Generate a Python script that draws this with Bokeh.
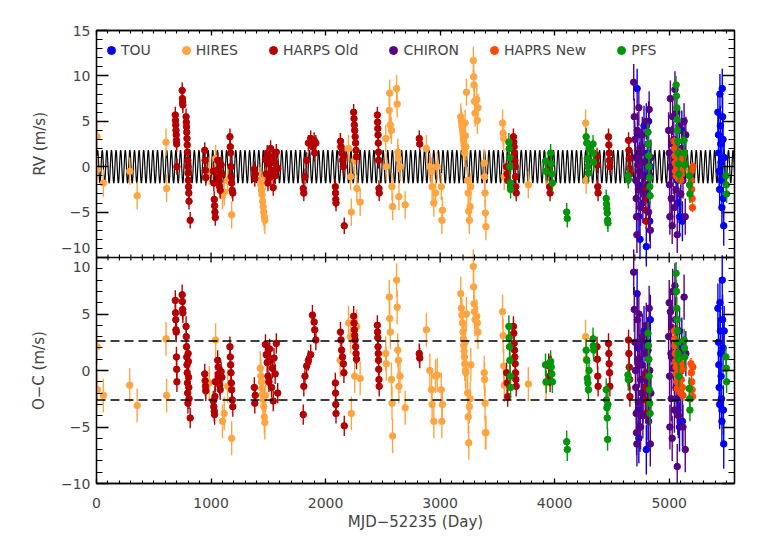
import numpy as np
from bokeh.plotting import figure
from bokeh.models import (Range1d, LinearAxis, FixedTicker, SingleIntervalTicker,
                          Span, CustomJSTickFormatter, ColumnDataSource, Title)
from bokeh.embed import file_html
from bokeh.resources import INLINE

# ---------------- data ----------------
# times are MJD-52235 (days), RV and O-C in m/s
TOU_T = [4720, 4725, 4730, 4735, 4740, 4745, 4760, 4770, 4780, 4790, 4800, 4810, 4815, 4820, 4830, 4835,
         5060, 5070, 5075, 5080, 5090, 5100, 5110, 5115,
         5425, 5430, 5433, 5436, 5440, 5443, 5446, 5450, 5453, 5456, 5460, 5463, 5466, 5470, 5473, 5476, 5480]
TOU_RV = [8.6, 3.5, -2.0, -5.5, 0.5, -8.0, 2.0, -4.0, 4.5, -1.0, -8.8, 1.5, -3.0, 5.0, -6.0, 0.0,
          2.5, -1.5, -4.0, 0.5, -5.5, -3.0, 4.0, -6.0,
          6.0, 3.5, 1.5, -0.5, -2.5, 8.0, 4.5, 2.5, 0.5, -1.5, -4.5, 8.6, 5.5, 3.0, -3.5, -6.5, 1.0]
TOU_OC = [6.8, 2.0, -3.5, -6.0, 1.0, -5.0, 0.5, -2.5, 3.5, -1.5, -7.0, 2.5, -4.0, 1.0, -2.0, 4.5,
          0.5, -2.5, -3.5, -1.5, -5.0, 0.0, 2.5, -4.5,
          5.5, 2.5, 0.5, -1.5, -3.0, 6.0, 3.5, 1.5, -0.5, -2.5, -4.5, 8.0, 4.5, 2.0, -3.5, -6.5, 3.5]
TOU_ERR = 2.2

HIRES_T = [5, 8, 60, 290, 355, 607, 612,
           985, 1040, 1100, 1115, 1145, 1180,
           1430, 1435, 1440, 1445, 1450, 1455, 1460, 1465, 1470, 1475,
           2127, 2200, 2218, 2225, 2254, 2273, 2302,
           2525, 2530, 2556, 2560, 2565, 2575, 2580, 2585, 2620, 2625, 2630, 2635, 2640, 2650, 2695,
           2880, 2910, 2925, 2930, 2945, 2960, 2975, 3010, 3015, 3020,
           3180, 3185, 3190, 3195, 3200, 3203, 3206, 3209, 3212, 3215,
           3218, 3221, 3225, 3230,
           3240, 3245, 3250, 3255, 3262, 3268,
           3290, 3293, 3296, 3300, 3305,
           3320, 3325, 3330,
           3385, 3388, 3392, 3395, 3400,
           3545, 3550, 3555, 3560,
           3770, 3925, 4270, 4275]
HIRES_RV = [3.3, -0.3, -1.8, -0.5, -3.2, 2.7, -2.4,
            -0.5, 0.9, -3.2, -2.8, -1.5, -5.3,
            -1.5, -2.0, -2.6, -3.1, -3.8, -4.4, -5.0, -5.5, -5.9, -1.0,
            2.2, 2.0, -1.1, -5.0, 0.7, -2.4, -3.9,
            3.1, 0.0, 6.2, 8.1, 4.6, 4.0, -2.2, -4.4, 8.6, 6.9, 1.6, 0.9, -3.3, 0.0, -4.2,
            2.0, 0.0, -0.5, -2.2, -4.0, -2.9, 0.0, -2.2, -5.9, -4.8,
            5.5, 5.0, 4.5, 4.0, 3.6, 3.2, 2.8, 2.4, 2.0, 1.5,
            4.8, 3.4, 2.2, 8.2,
            -1.5, -2.9, -4.9, -5.9, -4.4, -2.2,
            11.7, 9.9, 9.0, 7.2, 5.9,
            7.4, 5.1, 6.5,
            0.4, -1.1, -2.9, -5.1, -6.6,
            4.8, 3.7, 3.1, -1.1,
            -2.0, -0.5, 4.8, -1.5]
HIRES_OC = [2.1, -1.7, -2.2, -1.3, -3.1, 2.8, -2.2,
            -1.1, 2.7, -4.5, -3.8, -1.4, -6.0,
            0.2, -0.5, -1.0, -1.6, -2.1, -2.6, -3.2, -4.1, -4.6, -2.2,
            0.9, 4.2, 3.0, -3.8, -0.5, 3.9, -0.7,
            1.5, 0.6, 6.5, 4.6, 3.4, -0.8, -2.9, -5.8, 8.0, 5.6, 1.8, 0.9, -1.4, -0.5, -3.3,
            3.6, 0.0, -1.7, -3.0, -4.5, -0.5, -0.4, -1.7, -4.5, -3.0,
            6.8, 5.5, 4.9, 4.2, 3.4, 2.8, 2.2, 1.7, 1.2, 0.6,
            2.5, 0.0, -0.2, 5.0,
            -2.0, -4.1, -6.4, -3.2, -2.5, 0.5,
            9.2, 7.4, 5.9, 5.2, 4.5,
            4.8, 4.2, 3.4,
            -0.2, -0.8, -2.9, -5.5, -5.5,
            5.2, 3.1, 0.4, -1.3,
            -1.2, -1.1, 3.0, 1.0]
HIRES_ERR = 1.5

HARPS_OLD_T = [688, 690, 692, 694, 696, 698, 700, 702,
               748, 750, 752, 754,
               782, 784, 786, 788, 790, 792, 794, 796, 798, 800, 802, 804, 806, 808, 818,
               945, 948, 951, 954,
               1020, 1024, 1028, 1031, 1034, 1037,
               1058, 1062, 1066, 1070, 1075, 1080, 1088, 1095,
               1165, 1168, 1171, 1174, 1177, 1180, 1185, 1190,
               1378, 1382, 1386,
               1475, 1482, 1490, 1497, 1505, 1512, 1520, 1528, 1535, 1543, 1550, 1560, 1570, 1582,
               1805, 1810, 1820, 1835, 1850, 1870, 1885, 1900, 1905, 1915,
               2085, 2087, 2089, 2091, 2130, 2135, 2140, 2148, 2155, 2160, 2163,
               2245, 2248, 2251, 2254, 2258, 2262, 2266, 2270,
               2452, 2454, 2456, 2458, 2460, 2462, 2464, 2466, 2468,
               2818, 2822,
               3580, 3585, 3590, 3640, 3643, 3646, 3649, 3652, 3655, 3658, 3661, 3664,
               3948, 3952, 3956, 3960,
               4370, 4373, 4376, 4379,
               4470, 4473, 4476, 4479, 4482,
               4645, 4648, 4651, 4654, 4657,
               4790, 4793, 4796, 4799]
HARPS_OLD_RV = [5.7, 5.1, 4.6, 4.0, 3.5, 2.9, 2.5, 0.0,
                8.4, 7.5, 7.1, 6.8,
                5.5, 4.9, 4.4, 3.8, 3.1, 2.4, 1.6, 0.7, 0.0, -0.7, -1.5, -2.2, -2.9, -3.8, -5.9,
                1.8, 0.7, -0.4, -1.2,
                -0.5, -1.8, -3.6, -4.3, -5.0, -5.6,
                0.7, -0.3, -1.1, -1.6, -2.2, -2.6, 0.2, -0.8,
                3.3, 2.2, 1.5, 0.0, -1.1, -1.8, -2.6, -2.9,
                -0.3, -1.3, -0.8,
                0.8, -0.8, 1.5, -1.8, 0.3, -1.2, 2.0, -0.4, 1.0, -2.3, 0.5, -1.0, 1.6, -0.2,
                -2.4, -2.9, -1.1, 0.7, 2.6, 3.1, 2.2, 2.9, 1.5, 2.6,
                -2.2, -2.9, -3.6, -4.0, 2.8, 2.2, 1.5, 0.7, 0.0, 1.2, -6.5,
                6.0, 5.3, 4.6, 4.0, 3.3, 2.6, 1.8, 1.1,
                5.7, 4.9, 4.2, 3.5, 2.6, 1.6, 0.7, -2.4, -2.9,
                3.1, 2.5,
                0.0, -0.8, -1.5, 3.3, 2.7, 2.2, 1.5, 0.7, 0.0, -1.1, -2.2, -2.9,
                0.2, -0.7, -2.2, -2.9,
                1.2, 0.2, -2.2, -2.9,
                3.3, 2.4, 1.5, 0.7, 0.0,
                2.9, 1.8, 0.9, -0.2, -0.8,
                -2.3, -3.5, -4.8, -6.0]
HARPS_OLD_OC = [6.2, 5.1, 4.5, 3.6, 3.4, 1.2, 0.1, -1.0,
                6.7, 6.1, 5.4, 5.1,
                3.9, 3.0, 2.1, 1.2, 0.5, -0.2, -1.1, -2.0, -2.9, 1.5, 0.8, -0.6, -1.5, -2.5, -4.2,
                -0.3, -0.9, -1.4, -1.8,
                -2.7, -3.2, -3.6, -3.9, -2.3, -1.0,
                0.9, 0.3, -0.3, -0.8, -1.3, -1.7, -0.1, -0.6,
                2.1, 1.2, 0.5, -0.2, -1.1, -1.7, -2.6, -3.2,
                -1.5, -2.9, -2.2,
                2.3, 1.4, 0.7, -0.5, -1.0, 1.9, 0.9, -1.5, 0.2, -2.7, 1.1, -0.3, 2.4, -2.0,
                -3.9, -1.4, -0.5, 0.4, 0.9, 1.4, 4.9, 4.3, 3.6, 2.7,
                -1.1, -2.0, -3.0, -3.8, 3.4, 2.7, 1.8, 1.2, 0.6, -0.2, -4.9,
                4.8, 4.2, 3.6, 3.1, 2.7, 2.1, 1.5, 1.0,
                4.0, 3.4, 2.9, 2.1, 1.5, 0.9, 0.1, -0.8, -1.4,
                1.5, 1.1,
                -0.2, -1.1, -2.3, 3.9, 3.3, 2.4, 1.8, 1.2, 0.6, -0.2, -0.8, -1.4,
                0.6, 0.4, -0.5, -1.0,
                2.1, 1.0, -0.5, -1.4,
                2.4, 1.5, 0.6, -0.2, -1.4,
                2.7, 1.5, 0.3, -0.8, -2.3,
                -0.3, -1.5, -2.6, -3.8]
HARPS_OLD_ERR = 0.9

CHIRON_T = [4690, 4695, 4700, 4705, 4708, 4712, 4715, 4718, 4722, 4726, 4730, 4735, 4740, 4745,
            4750, 4755, 4760, 4765, 4770, 4780, 4800, 4810, 4815, 4820, 4825, 4830, 4835, 4840,
            4995, 5000, 5003, 5006, 5010, 5015, 5018, 5022, 5026, 5030, 5035, 5040, 5045,
            5050, 5055, 5060, 5065, 5070, 5080, 5090, 5100, 5110, 5120, 5130, 5140, 5145]
CHIRON_RV = [9.3, 5.5, 3.0, 1.0, -1.5, -3.5, -5.5, -7.5, 4.0, 0.2, -2.5, 6.5, -0.5, 2.0,
             -4.5, 1.5, -1.0, 3.5, -3.0, 0.5, 5.0, -2.0, 2.5, -5.0, 6.3, -1.0, -7.0, 1.0,
             4.0, 1.5, -2.0, -5.5, 7.5, 0.0, -3.5, 2.5, -6.5, 5.5, -1.0, 3.0, -4.5,
             8.5, 1.0, -2.5, 6.0, -7.5, 0.5, 4.5, -3.0, 2.0, -1.5, 5.0, -5.5, 3.5]
CHIRON_OC = [8.7, 5.4, 2.5, 0.0, -1.5, -3.8, -5.5, -6.5, 4.5, 1.0, -2.8, 5.0, 0.5, 2.5,
             -5.0, -0.8, -2.0, 3.0, -4.0, 1.5, 4.0, -1.0, 1.8, -4.5, 5.5, 0.0, -6.5, -2.0,
             3.0, 6.0, -0.5, -5.0, 5.2, 1.5, -2.5, 3.8, -6.0, 7.0, 0.2, 1.0, -3.5,
             7.5, 4.5, -1.5, 2.0, -8.5, -4.0, 3.5, -2.0, 0.5, -5.0, 6.5, -7.0, 1.5]
CHIRON_ERR = 2.0

HARPS_NEW_T = [5045, 5048, 5050, 5053, 5056, 5060, 5063, 5066, 5070, 5075, 5080, 5085, 5090,
               5095, 5100, 5105, 5110, 5115, 5120, 5125, 5190, 5193, 5196, 5200, 5203, 5206]
HARPS_NEW_RV = [2.8, 2.0, 1.2, 0.4, -0.5, -1.0, 1.8, 0.0, -0.7, 1.0, -1.3, 0.6, -0.2,
                1.5, -1.5, 0.3, -0.8, 0.8, -0.3, 1.2, -0.5, -1.5, -2.5, -3.5, -4.5, 0.0]
HARPS_NEW_OC = [3.5, 2.8, 2.2, 1.5, 0.8, 0.3, -0.3, -1.0, -1.6, 0.5, -0.5, 1.0, -1.2,
                0.0, -2.0, -0.8, 0.6, -1.5, -2.2, 0.2, 0.6, -0.2, -1.0, -1.7, -2.3, 0.3]
HARPS_NEW_ERR = 0.5

PFS_T = [3600, 3603, 3606, 3609, 3612, 3615, 3920, 3925, 3965, 3970, 3975, 3980, 4105, 4110,
         4275, 4280, 4285, 4290, 4295, 4300, 4335, 4338, 4341,
         4450, 4453, 4456, 4459, 4462, 4465, 4640, 4643,
         4815, 4818, 4821, 4824, 4827, 4830, 4833,
         5060, 5063, 5066, 5069, 5072, 5075, 5078, 5081, 5084,
         5130, 5133, 5136, 5175, 5178, 5181, 5495, 5498, 5501]
PFS_RV = [2.7, 2.0, 1.0, 0.0, -1.8, -2.5, 0.6, -0.5, 1.5, 0.3, -0.8, -1.8, -5.0, -5.7,
          3.3, 2.6, 0.9, 0.0, -0.7, 2.0, 2.5, 1.5, 0.5,
          -3.5, -4.1, -4.6, -5.1, -5.9, -6.2, -1.0, -1.4,
          3.8, 2.5, 1.2, 0.0, -1.2, -2.2, -3.2,
          9.0, 7.8, 6.5, 5.2, 4.0, 2.8, 1.5, 0.3, -0.8,
          2.9, 1.5, 0.2, -1.0, -2.0, -3.0, -1.0, -2.0, -3.0]
PFS_OC = [3.9, 2.9, 2.1, 0.9, -0.5, -1.5, 0.5, -1.0, 0.8, 0.3, -0.3, -1.0, -6.3, -7.0,
          1.8, 0.9, -0.7, -1.1, -1.7, 0.0, 2.8, 2.2, 1.8,
          -1.7, -2.6, -3.3, -4.2, -6.1, -3.0, -0.4, -0.8,
          3.3, 2.2, 1.0, -0.5, -1.7, -2.9, -3.8,
          8.6, 7.0, 5.5, 4.5, 3.5, 2.5, 1.5, 1.0, -0.5,
          2.7, 2.0, 1.2, -1.6, -2.5, -3.5, 1.2, 0.2, -1.0]
PFS_ERR = 1.0

INSTRUMENTS = [
    ("TOU", TOU_T, TOU_RV, TOU_OC, TOU_ERR, "#0000FF"),
    ("HIRES", HIRES_T, HIRES_RV, HIRES_OC, HIRES_ERR, "#FFA43F"),
    ("HARPS Old", HARPS_OLD_T, HARPS_OLD_RV, HARPS_OLD_OC, HARPS_OLD_ERR, "#B40000"),
    ("CHIRON", CHIRON_T, CHIRON_RV, CHIRON_OC, CHIRON_ERR, "#560086"),
    ("HAPRS New", HARPS_NEW_T, HARPS_NEW_RV, HARPS_NEW_OC, HARPS_NEW_ERR, "#FF4A00"),
    ("PFS", PFS_T, PFS_RV, PFS_OC, PFS_ERR, "#00960A"),
]

# fitted sinusoidal model drawn in the RV panel
MODEL_K = 1.8      # m/s
MODEL_P = 40.2     # days
MODEL_T0 = 0.0

SCATTER_LEVEL = 2.6   # dashed +/- lines in O-C panel

X_LIM = (0, 5570)
RV_LIM = (-10, 15)
OC_LIM = (-10, 10)
RV_TICKS = [-10, -5, 0, 5, 10, 15]
OC_TICKS = [-10, -5, 0, 5, 10]
X_MAJOR = 1000
X_MINOR_N = 10

# ---------------- layout ----------------
FONT = "DejaVu Sans"
B_LEFT, B_RIGHT, B_TOP, B_BOTTOM = 96, 14, 30, 54
FRAME_W, FRAME_H = 638, 453
W = B_LEFT + FRAME_W + B_RIGHT
H = B_TOP + FRAME_H + B_BOTTOM
SPLIT = 226                      # pixel height of lower (O-C) panel
TOP_H = FRAME_H - SPLIT

rv_span = RV_LIM[1] - RV_LIM[0]
oc_span = OC_LIM[1] - OC_LIM[0]

p = figure(width=W, height=H, output_backend="svg", toolbar_location=None, title=None,
           x_range=Range1d(*X_LIM), y_range=Range1d(0, FRAME_H),
           x_axis_location=None, y_axis_location=None,
           min_border_left=B_LEFT, min_border_right=B_RIGHT,
           min_border_top=B_TOP, min_border_bottom=B_BOTTOM)
p.xgrid.visible = False
p.ygrid.visible = False
p.outline_line_color = "black"
p.outline_line_width = 1.3
p.extra_y_ranges = {
    "rv": Range1d(RV_LIM[0] - SPLIT / TOP_H * rv_span, RV_LIM[1]),
    "oc": Range1d(OC_LIM[0], OC_LIM[1] + TOP_H / SPLIT * oc_span),
}


def rv_pos(v):
    return SPLIT + (v - RV_LIM[0]) / rv_span * TOP_H


def oc_pos(v):
    return (v - OC_LIM[0]) / oc_span * SPLIT


def fmt(v):
    return str(v).replace("-", "\u2212")


major_pos, major_lab = [], []
for v in RV_TICKS:
    major_pos.append(rv_pos(v))
    # at the panel boundary both panels' end labels are stacked
    major_lab.append(fmt(v) + "\n" + fmt(OC_LIM[1]) if v == RV_LIM[0] else fmt(v))
for v in OC_TICKS:
    if v != OC_LIM[1]:
        major_pos.append(oc_pos(v))
        major_lab.append(fmt(v))
minor_pos = [rv_pos(v) for v in range(RV_LIM[0], RV_LIM[1] + 1) if v % 5] + \
            [oc_pos(v) for v in range(OC_LIM[0], OC_LIM[1] + 1) if v % 5]

yticker = FixedTicker(ticks=major_pos, minor_ticks=minor_pos)
yfmt = CustomJSTickFormatter(args=dict(pos=major_pos, labs=major_lab), code="""
    for (let i = 0; i < pos.length; i++) {
        if (Math.abs(pos[i] - tick) < 1e-6) { return labs[i]; }
    }
    return "";
""")
blank = CustomJSTickFormatter(code='return "";')

common_y = dict(major_tick_in=12, major_tick_out=0, minor_tick_in=6, minor_tick_out=0,
                axis_line_width=1.3, major_tick_line_width=1.3, minor_tick_line_width=1.1,
                axis_line_color="black", major_tick_line_color="black", minor_tick_line_color="black")
left = LinearAxis(ticker=yticker, formatter=yfmt, major_label_text_font=FONT,
                  major_label_text_font_size="14px", major_label_standoff=6, **common_y)
right = LinearAxis(ticker=yticker, formatter=blank, major_label_standoff=0, **common_y)
p.add_layout(left, "left")
p.add_layout(right, "right")

# panel titles: one centred on each panel, both in the same column
TITLE_SIZE = 15
title_kw = dict(vertical_align="bottom", text_font=FONT,
                text_font_size=f"{TITLE_SIZE}px", text_font_style="normal")
RV_TITLE = "RV (m/s)"
OC_TITLE = "O\u2212C (m/s)"
RV_TITLE_LEN = 64     # approximate rendered text length in px
OC_TITLE_LEN = 79
p.add_layout(Title(text=RV_TITLE, align="right", offset=TOP_H / 2 - RV_TITLE_LEN / 2,
                   standoff=16.5, **title_kw), "left")
p.add_layout(Title(text=OC_TITLE, align="left", offset=SPLIT / 2 - OC_TITLE_LEN / 2,
                   standoff=-55.5, **title_kw), "left")

common_x = dict(major_tick_in=5, major_tick_out=0, minor_tick_in=3, minor_tick_out=0,
                axis_line_width=1.3, major_tick_line_width=1.3, minor_tick_line_width=1.1,
                axis_line_color="black", major_tick_line_color="black", minor_tick_line_color="black")
bottom = LinearAxis(ticker=SingleIntervalTicker(interval=X_MAJOR, num_minor_ticks=X_MINOR_N),
                    axis_label="MJD\u221252235 (Day)", axis_label_text_font=FONT,
                    axis_label_text_font_size="15px", axis_label_text_font_style="normal",
                    axis_label_standoff=2, major_label_text_font=FONT,
                    major_label_text_font_size="14px", major_label_standoff=14, **common_x)
top = LinearAxis(ticker=SingleIntervalTicker(interval=X_MAJOR, num_minor_ticks=X_MINOR_N),
                 formatter=blank, major_label_standoff=0, **common_x)
p.add_layout(bottom, "below")
p.add_layout(top, "above")

# boundary between panels with ticks crossing it
p.add_layout(Span(location=SPLIT, dimension="width", line_color="black", line_width=1.3))
step = X_MAJOR // X_MINOR_N
bx = np.arange(X_LIM[0], X_LIM[1] + 1, step)
bmaj = bx[bx % X_MAJOR == 0]
bmin = bx[bx % X_MAJOR != 0]
p.segment(x0=bmaj, x1=bmaj, y0=SPLIT - 5, y1=SPLIT + 5, line_color="black", line_width=1.3)
p.segment(x0=bmin, x1=bmin, y0=SPLIT - 3, y1=SPLIT + 3, line_color="black", line_width=1.1)

# dashed scatter levels in O-C panel
for lvl in (SCATTER_LEVEL, -SCATTER_LEVEL):
    p.add_layout(Span(location=lvl, dimension="width", y_range_name="oc",
                      line_color="black", line_width=1.5, line_dash="9 5"))

# model curve
tm = np.arange(X_LIM[0], X_LIM[1] + 1, 1.0)
ym = MODEL_K * np.sin(2 * np.pi * (tm - MODEL_T0) / MODEL_P)
p.line(tm, ym, y_range_name="rv", line_color="black", line_width=1.2)

# data
for name, t, rv, oc, err, col in INSTRUMENTS:
    t = np.array(t, float)
    rv = np.array(rv, float)
    oc = np.array(oc, float)
    src = ColumnDataSource(dict(t=t, rv=rv, oc=oc, rv_lo=rv - err, rv_hi=rv + err,
                                oc_lo=oc - err, oc_hi=oc + err))
    p.segment(x0="t", x1="t", y0="rv_lo", y1="rv_hi", source=src, y_range_name="rv",
              line_color=col, line_width=1.4)
    p.scatter(x="t", y="rv", source=src, y_range_name="rv", marker="circle", size=6.5,
              fill_color=col, line_color=col, legend_label=name)
    p.segment(x0="t", x1="t", y0="oc_lo", y1="oc_hi", source=src, y_range_name="oc",
              line_color=col, line_width=1.4)
    p.scatter(x="t", y="oc", source=src, y_range_name="oc", marker="circle", size=6.5,
              fill_color=col, line_color=col)

leg = p.legend[0]
leg.location = "top_left"
leg.orientation = "horizontal"
leg.background_fill_alpha = 0
leg.border_line_alpha = 0
leg.label_text_font = FONT
leg.label_text_font_size = "14px"
leg.glyph_width = 20
leg.glyph_height = 30
leg.label_standoff = 0
leg.spacing = 25
leg.margin = 5
leg.padding = 0

open("out.html", "w").write(file_html(p, INLINE))
